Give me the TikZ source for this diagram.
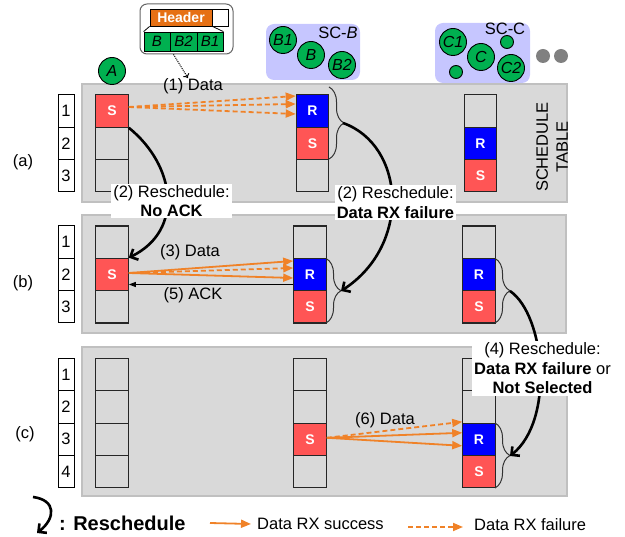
\documentclass[tikz,border=0pt]{standalone}
\usepackage{fontspec}
\setmainfont{Liberation Sans}
\usetikzlibrary{arrows.meta,decorations.pathreplacing}
\definecolor{sred}{RGB}{255,85,85}
\definecolor{rblue}{RGB}{0,0,255}
\definecolor{ngreen}{RGB}{0,176,80}
\definecolor{dorange}{RGB}{240,130,40}
\definecolor{hdrorange}{RGB}{230,112,20}
\definecolor{lav}{RGB}{198,198,255}
\definecolor{pgray}{RGB}{217,217,217}
\definecolor{pline}{RGB}{192,192,192}
\definecolor{dotgray}{RGB}{128,128,128}

\tikzset{
  lbl/.style={font=\fontsize{16.5}{19.5}\selectfont, inner sep=1pt},
  panelbox/.style={fill=pgray, draw=pline, line width=1.5pt},
  cellbox/.style={draw=black!85, line width=1.1pt, minimum width=32.5pt, minimum height=32.4pt,
    inner sep=0pt, font=\fontsize{14}{14}\selectfont\bfseries, text=white},
  scell/.style={cellbox, fill=sred},
  rcell/.style={cellbox, fill=rblue},
  numbox/.style={draw=black, fill=white, line width=1pt, minimum width=16pt, minimum height=32.4pt,
    inner sep=0pt, font=\fontsize{16.5}{16.5}\selectfont},
  ball/.style={circle, fill=ngreen, draw=black, line width=0.9pt, minimum size=27pt, inner sep=0pt,
    font=\fontsize{16}{16}\selectfont\itshape},
  smallball/.style={circle, fill=ngreen, draw=black, line width=0.9pt, minimum size=13pt, inner sep=0pt},
  greyball/.style={circle, fill=dotgray, minimum size=14pt, inner sep=0pt},
  groupbox/.style={fill=lav, rounded corners=8pt},
  lblbox/.style={fill=white, align=center, inner xsep=2pt, inner ysep=1.5pt,
    font=\fontsize{16.5}{19.5}\selectfont},
  resched/.style={line width=2.6pt, -{Straight Barb[length=6pt,width=12pt]}},
  okarrow/.style={draw=dorange, line width=1.8pt, -{Triangle[length=10pt,width=8pt]}},
  failarrow/.style={okarrow, dash pattern=on 5pt off 3pt},
  brc/.style={draw=black!80, line width=1pt, decorate, decoration={brace, amplitude=15pt}},
  hcell/.style={draw=black, line width=0.8pt, fill=ngreen, inner sep=0pt, minimum height=19pt,
    font=\fontsize{15}{15}\selectfont\itshape},
}

\begin{document}
\begin{tikzpicture}[x=1pt,y=-1pt]
\useasboundingbox (0,0) rectangle (625,537);

% schedule table panels
\path[panelbox] (82,84) rectangle (567,202);
\path[panelbox] (82,215) rectangle (566,333);
\path[panelbox] (82,347) rectangle (567,496);

% node groups
\path[groupbox] (266,24) rectangle (360,80);
\path[groupbox] (435,23) rectangle (530,83);
\node[ball] (A) at (112,71) {A};
\node[ball] (B1) at (283,40) {B1};
\node[ball] (B) at (311,55) {B};
\node[ball] (B2) at (342,65) {B2};
\node[lbl] (scb) at (338,33) {SC-\textit{B}};
\node[ball] (C1) at (453,42) {C1};
\node[ball] (C) at (481,57) {C};
\node[ball] (C2) at (511,68) {C2};
\node[smallball] (c3) at (507,42) {};
\node[smallball] (c4) at (456,72) {};
\node[lbl] (scc) at (505,29) {SC-C};
\node[greyball] (g1) at (543,56) {};
\node[greyball] (g2) at (561,56) {};

% packet header
\draw[draw=black!60, line width=1pt, fill=white, rounded corners=7pt] (140,4) rectangle (233,54);
\node[draw=black!80, line width=0.8pt, inner sep=0pt] (hdrbox) at (186.5,29) [minimum width=93pt, minimum height=50pt, draw=none] {};
\node[draw=black, line width=0.8pt, fill=hdrorange, text=white, inner sep=0pt, minimum width=62pt,
  minimum height=17pt, font=\fontsize{14}{14}\selectfont\bfseries] (hdr) at (181,17.5) {Header};
\node[draw=black, line width=0.8pt, fill=white, inner sep=0pt, minimum width=16pt, minimum height=17pt]
  (hpad) at (220,17.5) {};
\node[hcell, minimum width=26pt] (hB) at (157,41.5) {B};
\node[hcell, minimum width=27pt] (hB2) at (183.5,41.5) {B2};
\node[hcell, minimum width=26pt] (hB1) at (210,41.5) {B1};
\draw[line width=0.8pt] (hdr.south west) -- (hB.north west);
\draw[line width=0.8pt] (hdr.south east) -- (hB1.north east);

% row numbers
\node[numbox] (na1) at (66,111) {1};
\node[numbox] (na2) at (66,143.3) {2};
\node[numbox] (na3) at (66,175.7) {3};
\node[numbox] (nb1) at (66,242.2) {1};
\node[numbox] (nb2) at (66,274.5) {2};
\node[numbox] (nb3) at (66,306.8) {3};
\node[numbox] (nc1) at (66,374.5) {1};
\node[numbox] (nc2) at (66,406.9) {2};
\node[numbox] (nc3) at (66,439.3) {3};
\node[numbox] (nc4) at (66,471.7) {4};

% panel (a)
\node[scell] (aL1) at (112,111) {S};
\node[cellbox] (aL2) at (112,143.3) {};
\node[cellbox] (aL3) at (112,175.7) {};
\node[rcell] (aM1) at (312.5,111) {R};
\node[scell] (aM2) at (312.5,143.3) {S};
\node[cellbox] (aM3) at (312.5,175.7) {};
\node[cellbox] (aR1) at (480.5,111) {};
\node[rcell] (aR2) at (480.5,143.3) {R};
\node[scell] (aR3) at (480.5,175.7) {S};

% panel (b)
\node[cellbox] (bL1) at (112,242.2) {};
\node[scell] (bL2) at (112,274.5) {S};
\node[cellbox] (bL3) at (112,306.8) {};
\node[cellbox] (bM1) at (310,242.2) {};
\node[rcell] (bM2) at (310,274.5) {R};
\node[scell] (bM3) at (310,306.8) {S};
\node[cellbox] (bR1) at (479,242.2) {};
\node[rcell] (bR2) at (479,274.5) {R};
\node[scell] (bR3) at (479,306.8) {S};

% panel (c)
\node[cellbox] (cL1) at (112,374.5) {};
\node[cellbox] (cL2) at (112,406.9) {};
\node[cellbox] (cL3) at (112,439.3) {};
\node[cellbox] (cL4) at (112,471.7) {};
\node[cellbox] (cM1) at (310,374.5) {};
\node[cellbox] (cM2) at (310,406.9) {};
\node[scell] (cM3) at (310,439.3) {S};
\node[cellbox] (cM4) at (310,471.7) {};
\node[cellbox] (cR1) at (479,374.5) {};
\node[cellbox] (cR2) at (479,406.9) {};
\node[rcell] (cR3) at (479,439.3) {R};
\node[scell] (cR4) at (479,471.7) {S};

% braces grouping R/S slots
\draw[brc] (329,87) -- (329,159);
\draw[brc] (326,258.5) -- (326,323);
\draw[brc] (495,258.5) -- (495,323);
\draw[brc] (495,423) -- (495,488);
\coordinate (tipA) at (343,123);
\coordinate (tipB) at (341,291);
\coordinate (tipBR) at (510,291);
\coordinate (tipCR) at (510,456);

% data transmissions
\draw[failarrow] ([yshift=4pt]aL1.east) -- ([yshift=15pt]aM1.west);
\draw[failarrow] ([yshift=4pt]aL1.east) -- ([yshift=7pt]aM1.west);
\draw[failarrow] ([yshift=4pt]aL1.east) -- ([yshift=-3pt]aM1.west);
\draw[okarrow] ([yshift=1.5pt]bL2.east) -- ([yshift=13.5pt]bM2.west);
\draw[failarrow] ([yshift=1.5pt]bL2.east) -- ([yshift=6.5pt]bM2.west);
\draw[okarrow] ([yshift=1.5pt]bL2.east) -- ([yshift=-3.5pt]bM2.west);
\draw[line width=1pt, -{Triangle[length=7pt,width=5pt]}] ([yshift=-10pt]bM2.west) -- ([yshift=-10pt]bL2.east);
\draw[failarrow] ([yshift=1.5pt]cM3.east) -- ([yshift=17.5pt]cR3.west);
\draw[okarrow] ([yshift=1.5pt]cM3.east) -- ([yshift=6.5pt]cR3.west);
\draw[okarrow] ([yshift=1.5pt]cM3.east) -- ([yshift=-6.5pt]cR3.west);

% reschedule arrows
\draw[resched] (aL1.south east) .. controls (175,165) and (185,230) .. (bL2.north east);
\draw[resched] (tipA) .. controls (405,145) and (412,245) .. (tipB);
\draw[resched] (tipBR) .. controls (545,315) and (555,420) .. (tipCR);

% text labels
\node[lbl] (la) at (23,162) {(a)};
\node[lbl] (lb) at (23,283) {(b)};
\node[lbl] (lc) at (25,434) {(c)};
\node[lbl] (d1) at (193,86) {(1) Data};
\node[lbl] (d3) at (190,252) {(3) Data};
\node[lbl] (d5) at (193,295) {(5) ACK};
\node[lbl] (d6) at (385,420) {(6) Data};
\node[lbl, rotate=90, align=center, font=\fontsize{16.5}{20}\selectfont] (sched) at (552,147) {SCHEDULE\\TABLE};
\draw[densely dotted, line width=1pt, -{To[length=4pt,width=7pt]}] ([xshift=-13pt]hdrbox.south) -- ([xshift=-5pt,yshift=-1pt]d1.north);

\node[lblbox] (r2a) at (171.5,201) {(2) Reschedule:\\\textbf{No ACK}};
\node[lblbox] (r2b) at (395.5,202.5) {(2) Reschedule:\\\textbf{Data RX failure}};
\node[lblbox] (r4) at (542.5,368.5) {(4) Reschedule:\\\textbf{Data RX failure} or\\\textbf{Not Selected}};

% legend
\coordinate (lg1) at (33,497);
\coordinate (lg2) at (37,533);
\draw[resched] (lg1) .. controls (56,500) and (56,518) .. (lg2);
\node[anchor=west, inner sep=0pt, font=\fontsize{20}{20}\selectfont\bfseries] (lgt) at (59,523) {: Reschedule};
\coordinate (ok1) at (210,523);
\node[anchor=west, lbl] (okt) at (256,524) {Data RX success};
\draw[okarrow] (ok1) -- ([xshift=-5pt]okt.west);
\coordinate (fl1) at (408,527);
\node[anchor=west, lbl] (flt) at (473,525) {Data RX failure};
\draw[failarrow] (fl1) -- ([xshift=-10pt,yshift=-2pt]flt.west);
\end{tikzpicture}
\end{document}
